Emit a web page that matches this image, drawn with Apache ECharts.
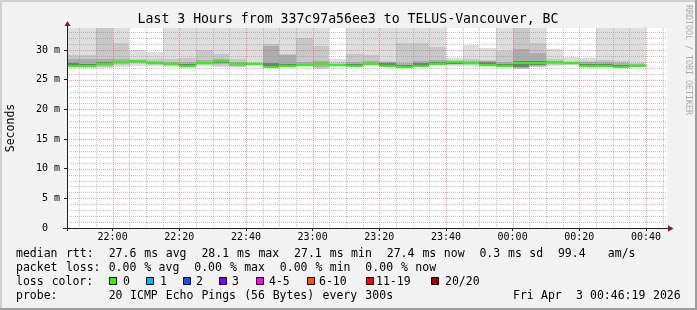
<!DOCTYPE html>
<html><head><meta charset="utf-8">
<script src="https://cdn.jsdelivr.net/npm/echarts@6/dist/echarts.min.js"></script>
<style>html,body{margin:0;padding:0;background:#f2f2f2;}#c{width:697px;height:310px;}</style>
</head><body><div id="c"></div>
<script>
// ---- data ----
const binStarts = ['21:45','21:50','21:55','22:00','22:05','22:10','22:15','22:20','22:25','22:30','22:35','22:40','22:45','22:50','22:55','23:00','23:05','23:10','23:15','23:20','23:25','23:30','23:35','23:40','23:45','23:50','23:55','00:00','00:05','00:10','00:15','00:20','00:25','00:30','00:35'];
const median   = [27.28,27.35,27.70,27.98,28.06,27.86,27.64,27.27,27.78,28.08,27.57,27.57,27.12,27.30,27.39,27.56,27.39,27.36,27.62,27.33,27.08,27.36,27.58,27.90,27.80,27.42,27.28,27.74,27.88,27.92,27.72,27.26,27.26,27.10,27.35];
const smoke1Hi = [36.0,35.5,37.0,36.2,30.0,29.6,35.8,36.4,35.1,36.0,35.3,36.5,37.2,35.0,36.1,35.6,28.45,35.9,36.3,35.2,36.7,35.4,36.0,28.6,30.8,30.3,35.7,37.5,36.2,30.1,28.8,28.65,35.5,36.1,35.8];
const smoke1Lo = [26.90,26.95,26.95,27.20,27.30,27.30,27.10,26.95,27.30,27.20,27.10,27.35,26.90,27.05,27.15,26.80,27.20,27.15,27.35,27.10,26.90,27.15,27.30,27.30,27.30,27.20,27.10,26.75,27.05,27.35,27.40,27.00,27.10,26.90,27.20];
const smoke2Hi = [29.20,29.20,36.0,31.10,28.50,28.50,28.50,28.60,30.00,29.30,28.50,28.00,31.00,29.40,32.00,30.60,28.00,29.25,29.10,28.20,31.20,31.20,30.50,28.30,28.40,28.30,29.80,36.0,31.10,28.50,28.20,28.10,28.30,28.20,27.80];
const smoke2Lo = [27.05,27.10,27.20,27.40,27.60,27.50,27.25,27.05,27.45,27.35,27.20,27.45,26.95,27.10,27.25,27.00,27.25,27.20,27.45,27.15,26.95,27.20,27.40,27.50,27.50,27.25,27.15,26.85,27.15,27.50,27.50,27.05,27.15,26.95,27.25];
const smoke3Hi = [28.50,28.40,28.50,28.40,28.30,28.10,28.00,28.00,28.30,28.40,28.00,27.80,30.60,29.20,28.00,28.20,27.70,28.00,28.10,28.05,27.80,28.20,28.30,28.10,28.10,28.20,28.00,30.10,29.50,28.20,28.00,27.90,27.95,27.80,27.60];
const smoke3Lo = [27.15,27.20,27.30,27.60,27.80,27.60,27.40,27.10,27.55,27.60,27.30,27.50,27.00,27.15,27.30,27.20,27.30,27.25,27.50,27.20,27.00,27.25,27.45,27.60,27.60,27.30,27.20,26.95,27.25,27.70,27.60,27.10,27.20,27.00,27.28];
const smoke4Hi = [27.75,27.60,28.00,28.10,28.15,27.95,27.75,27.55,28.00,28.20,27.75,27.70,27.75,27.70,27.60,27.80,27.55,27.60,27.85,27.75,27.50,27.80,27.90,28.00,27.95,28.00,27.60,28.10,28.10,28.05,27.85,27.70,27.60,27.50,27.50];
const smoke4Lo = [27.20,27.25,27.50,27.80,27.95,27.75,27.50,27.15,27.65,27.85,27.40,27.50,27.05,27.20,27.30,27.40,27.30,27.30,27.55,27.25,27.02,27.30,27.50,27.70,27.70,27.35,27.22,27.10,27.40,27.80,27.65,27.12,27.22,27.02,27.30];
const xTickLabels = ['22:00','22:20','22:40','23:00','23:20','23:40','00:00','00:20','00:40'];
const yTickValues = [0,5,10,15,20,25,30];
const windowStart = '21:46:19', windowEnd = '00:46:19';
const stepMin = 5; // 300 s
const yMax = 33.7;

const titleText = 'Last 3 Hours from 337c97a56ee3 to TELUS-Vancouver, BC';
const legendRow1 = 'median rtt:  27.6 ms avg  28.1 ms max  27.1 ms min  27.4 ms now  0.3 ms sd  99.4   am/s';
const legendRow2 = 'packet loss: 0.00 % avg  0.00 % max  0.00 % min  0.00 % now';
const legendRow4 = 'probe:       20 ICMP Echo Pings (56 Bytes) every 300s';
const dateText = 'Fri Apr  3 00:46:19 2026';
const lossLabels = ['0','1','2','3','4-5','6-10','11-19','20/20'];
const lossColors = ['#26ff00','#00b8ff','#0059ff','#7e00ff','#ff00ff','#ff5500','#ff0000','#a00000'];

// ---- helpers ----
function toMin(s){ const p=s.split(':').map(Number); let h=p[0]; if(h<12) h+=24; return (h-21)*60+p[1]+(p[2]||0)/60; }
const binX = binStarts.map(toMin);
const xMin = toMin(windowStart), xMax = toMin(windowEnd);
const tickX = xTickLabels.map(toMin);
const FONT = '"DejaVu Sans Mono"';

const chart = echarts.init(document.getElementById('c'), null, {renderer:'canvas'});

function clipTo(rect, cs){ return echarts.graphic.clipRectByRect(rect, {x:cs.x,y:cs.y,width:cs.width,height:cs.height}); }

function band(lo, hi, color){
  return {
    type:'custom', z:2, silent:true,
    data: binX.map((s,i)=>[s, s+stepMin, lo[i], hi[i]]),
    encode:{x:[0,1], y:[2,3]},
    renderItem(params, api){
      const a = api.coord([api.value(0), api.value(3)]);
      const b = api.coord([api.value(1), api.value(2)]);
      const x0 = Math.round(a[0]), x1 = Math.round(b[0]);
      const y0 = Math.round(a[1]), y1 = Math.round(b[1]);
      const r = clipTo({x:x0, y:y0, width:x1-x0, height:Math.max(1,y1-y0)}, params.coordSys);
      return r ? {type:'rect', shape:r, style:{fill:color}} : null;
    }
  };
}

const medianSeries = {
  type:'custom', z:4, silent:true,
  data: binX.map((s,i)=>[s, s+stepMin, median[i]]),
  encode:{x:[0,1], y:2},
  renderItem(params, api){
    const a = api.coord([api.value(0), api.value(2)]);
    const b = api.coord([api.value(1), api.value(2)]);
    const x0 = Math.round(a[0]), x1 = Math.round(b[0]);
    const y = Math.round(a[1]) - 1;
    const r = clipTo({x:x0, y:y, width:x1-x0, height:2}, params.coordSys);
    return r ? {type:'rect', shape:r, style:{fill:'#26ff00'}} : null;
  }
};

// grid line positions (layout, not data)
const vMinor = [], vMajor = tickX.slice(), hMinor = [], hMajor = [];
for (let m = 50; m <= 225; m += 5) if (!vMajor.some(t=>Math.abs(t-m)<1e-6)) vMinor.push(m);
for (let v = 1; v <= 33; v++) (v%5===0 ? hMajor : hMinor).push(v);

function vGrid(list, color){
  return { type:'custom', z:3, silent:true, data:list.map(v=>[v, 0]), encode:{x:0,y:1},
    renderItem(params, api){
      const cs = params.coordSys;
      const x = Math.round(api.coord([api.value(0), 0])[0]) + 0.5;
      return {type:'line', shape:{x1:x,y1:cs.y,x2:x,y2:cs.y+cs.height}, style:{stroke:color,lineWidth:1,lineDash:[1,1]}};
    }};
}
function hGrid(list, color){
  return { type:'custom', z:3, silent:true, data:list.map(v=>[xMin, v]), encode:{x:0,y:1},
    renderItem(params, api){
      const cs = params.coordSys;
      const y = Math.round(api.coord([xMin, api.value(1)])[1]) + 0.5;
      return {type:'line', shape:{x1:cs.x,y1:y,x2:cs.x+cs.width,y2:y}, style:{stroke:color,lineWidth:1,lineDash:[1,1]}};
    }};
}

// text helpers
const graphics = [];
function txt(text, x, y, size, opts){
  opts = opts || {};
  graphics.push({type:'text', x:x, y:y, rotation:opts.rotation||0, silent:true, z:100,
    style:{text:text, font: size+'px '+FONT, fill: opts.color||'#000',
      textAlign: opts.align||'left', textVerticalAlign: opts.valign||'middle',
      align: opts.align||'left', verticalAlign: opts.valign||'middle'}});
}
function words(str, x0, y, cw, size){
  const re = /\S+/g; let m;
  while ((m = re.exec(str)) !== null) txt(m[0], x0 + m.index*cw, y, size);
}

// frame (3D shade)
graphics.push({type:'rect', shape:{x:0,y:0,width:697,height:2}, style:{fill:'#cfcfcf'}, silent:true});
graphics.push({type:'rect', shape:{x:0,y:0,width:2,height:310}, style:{fill:'#cfcfcf'}, silent:true});
graphics.push({type:'rect', shape:{x:695,y:0,width:2,height:310}, style:{fill:'#9e9e9e'}, silent:true});
graphics.push({type:'rect', shape:{x:0,y:308,width:697,height:2}, style:{fill:'#9e9e9e'}, silent:true});

txt(titleText, 348, 19.5, 13.2, {align:'center'});
txt('Seconds', 11, 128, 11.5, {align:'center', rotation:Math.PI/2});
txt('RRDTOOL / TOBI OETIKER', 688, 60, 8.3, {align:'center', rotation:-Math.PI/2, color:'#ababab'});

words(legendRow1, 16, 253.6, 7.13, 11.5);
words(legendRow2, 16, 267.8, 7.13, 11.5);
words('loss color:', 16, 281.6, 7.13, 11.5);
const boxX = [109,146,183,219,256,307,366,431];
const labX = [123,160,196,232,269,319,376,445];
lossLabels.forEach((l,i)=>{
  graphics.push({type:'rect', silent:true, z:100, shape:{x:boxX[i]+0.5,y:277.5,width:7,height:7}, style:{fill:lossColors[i], stroke:'#000', lineWidth:1}});
  txt(l, labX[i], 281.6, 11.5);
});
words(legendRow4, 16, 296, 7.13, 11.5);
words(dateText, 513, 296, 7.0, 11.5);

// axis extensions and arrows
graphics.push({type:'line', silent:true, z:100, shape:{x1:67.5,y1:231,x2:67.5,y2:24}, style:{stroke:'#1f1f1f',lineWidth:1}});
graphics.push({type:'line', silent:true, z:100, shape:{x1:63,y1:228.5,x2:669,y2:228.5}, style:{stroke:'#1f1f1f',lineWidth:1}});
graphics.push({type:'polygon', silent:true, z:101, shape:{points:[[64.5,26],[67.5,21],[70.5,26]]}, style:{fill:'#801f1f'}});
graphics.push({type:'polygon', silent:true, z:101, shape:{points:[[668,225.3],[673.5,228.5],[668,231.7]]}, style:{fill:'#801f1f'}});

const minorColor = 'rgba(143,143,143,0.55)';
const majorColor = 'rgba(222,79,79,0.55)';

chart.setOption({
  backgroundColor:'#f2f2f2',
  animation:false,
  grid:{left:67, top:28, width:600, height:200, show:true, backgroundColor:'#ffffff', borderWidth:0},
  xAxis:{type:'value', min:xMin, max:xMax,
    splitLine:{show:false},
    axisLine:{show:true, lineStyle:{color:'#1f1f1f', width:1}},
    axisTick:{show:true, customValues:tickX, length:3, lineStyle:{color:'#1f1f1f'}},
    axisLabel:{customValues:tickX, margin:9, verticalAlign:'middle',
      formatter:(v)=>{ const i = tickX.findIndex(t=>Math.abs(t-v)<1e-6); return i>=0 ? xTickLabels[i] : ''; },
      fontFamily:'DejaVu Sans Mono', fontSize:10, color:'#000'}},
  yAxis:{type:'value', min:0, max:yMax, interval:5,
    splitLine:{show:false},
    axisLine:{show:true, lineStyle:{color:'#1f1f1f', width:1}},
    axisTick:{show:true, customValues:yTickValues, length:3, lineStyle:{color:'#1f1f1f'}},
    axisLabel:{customValues:yTickValues, margin:7,
      formatter:(v)=> v===0 ? '0  ' : v+' m',
      fontFamily:'DejaVu Sans Mono', fontSize:10, color:'#000'}},
  graphic: graphics,
  series:[
    band(smoke1Lo, smoke1Hi, '#dddddd'),
    band(smoke2Lo, smoke2Hi, '#c8c8c8'),
    band(smoke3Lo, smoke3Hi, '#adadad'),
    band(smoke4Lo, smoke4Hi, '#7a7a7a'),
    vGrid(vMinor, minorColor),
    hGrid(hMinor, minorColor),
    vGrid(vMajor, majorColor),
    hGrid(hMajor, majorColor),
    medianSeries
  ]
});
</script>
</body></html>
